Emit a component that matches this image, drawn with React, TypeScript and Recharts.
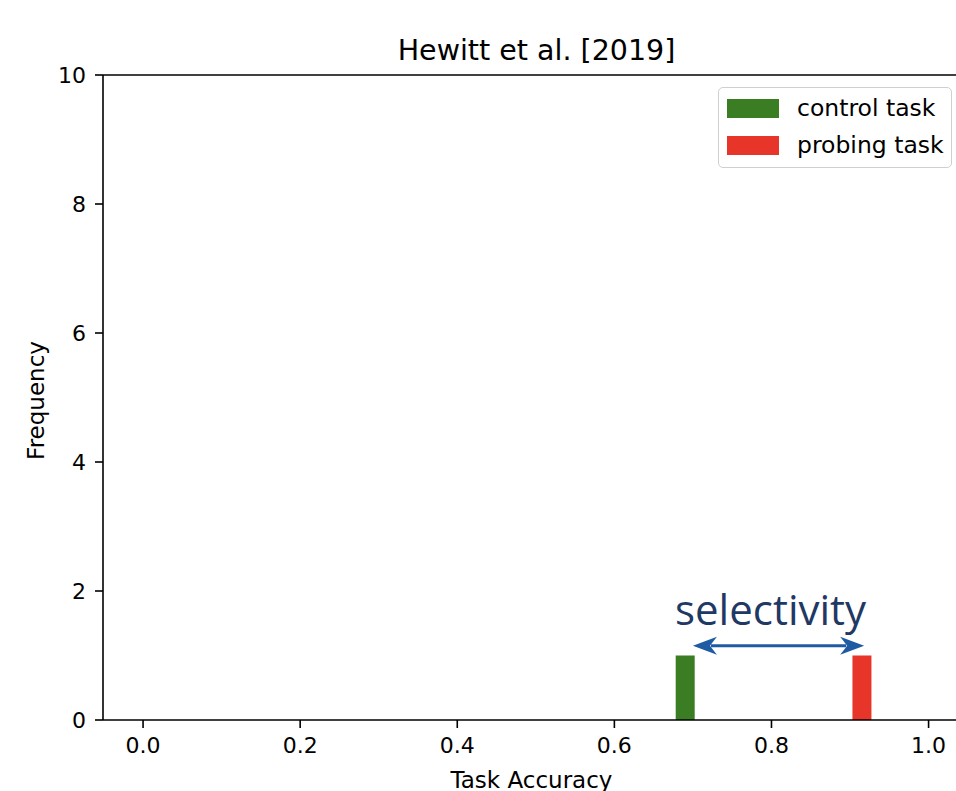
import React from 'react';
import { BarChart, Bar, XAxis, YAxis, Legend, ReferenceLine, Label } from 'recharts';

// histogram of task accuracy (one run each)
const accuracy = [0.69, 0.915];
const controlTask = [1, 0];
const probingTask = [0, 1];
const xTicks = [0, 0.2, 0.4, 0.6, 0.8, 1.0];
const yTicks = [0, 2, 4, 6, 8, 10];

const rows = accuracy.map((x, i) => ({ x, control: controlTask[i], probing: probingTask[i] }));

const GREEN = '#3a7d22';
const RED = '#e8352a';

const ArrowShape = (p: any) => {
  const { x1, y1, x2, y2 } = p;
  const h = 24;
  const w = 9;
  const c = '#1f5ba3';
  return (
    <g>
      <line x1={x1 + h - 6} y1={y1} x2={x2 - h + 6} y2={y2} stroke={c} strokeWidth={3} />
      <path d={`M${x1},${y1} L${x1 + h},${y1 - w} L${x1 + h - 7},${y1} L${x1 + h},${y1 + w} Z`} fill={c} />
      <path d={`M${x2},${y2} L${x2 - h},${y2 - w} L${x2 - h + 7},${y2} L${x2 - h},${y2 + w} Z`} fill={c} />
    </g>
  );
};

const renderLegend = (props: any) => (
  <div
    style={{
      position: 'relative',
      width: 234,
      height: 81,
      boxSizing: 'border-box',
      border: '1.5px solid #cfcfcf',
      borderRadius: 5,
      background: 'rgba(255,255,255,0.8)',
      fontFamily: 'DejaVu Sans',
      fontSize: 23.5,
      color: '#000',
    }}
  >
    {(props.payload || []).map((e: any, i: number) => (
      <div key={i} style={{ position: 'absolute', left: 0, top: 6 + i * 37, height: 30, width: 234 }}>
        <div style={{ position: 'absolute', left: 8, top: 5, width: 52, height: 19, background: e.color }} />
        <div style={{ position: 'absolute', left: 78, top: 0, lineHeight: '28px', whiteSpace: 'nowrap' }}>{e.value}</div>
      </div>
    ))}
  </div>
);

export default function App() {
  return (
    <div style={{ position: 'absolute', left: 0, top: 0, width: 956, height: 791, overflow: 'hidden', background: '#fff' }}>
      <BarChart
        width={960}
        height={830}
        data={rows}
        margin={{ top: 75, right: 0, left: 0, bottom: 60 }}
        style={{ fontFamily: 'DejaVu Sans' }}
      >
        <XAxis
          dataKey="x"
          type="number"
          domain={[-0.051, 1.04]}
          ticks={xTicks}
          tickFormatter={(v: number) => v.toFixed(1)}
          tick={{ fontSize: 22, fill: '#000' }}
          tickSize={8}
          tickMargin={9}
          height={50}
          axisLine={{ stroke: '#000', strokeWidth: 1.6 }}
          tickLine={{ stroke: '#000', strokeWidth: 1.6 }}
        >
          <Label value="Task Accuracy" position="bottom" offset={2} fontSize={23} fill="#000" />
        </XAxis>
        <YAxis
          type="number"
          domain={[0, 10]}
          ticks={yTicks}
          width={103}
          tick={{ fontSize: 22, fill: '#000' }}
          tickSize={8}
          tickMargin={9}
          axisLine={{ stroke: '#000', strokeWidth: 1.6 }}
          tickLine={{ stroke: '#000', strokeWidth: 1.6 }}
        >
          <Label
            content={(p: any) => {
              const vb = p.viewBox || { x: 0, y: 75, width: 103, height: 645 };
              const cx = vb.x + 36;
              const cy = vb.y + vb.height / 2 + 3;
              return (
                <text
                  x={cx}
                  y={cy}
                  transform={`rotate(-90, ${cx}, ${cy})`}
                  textAnchor="middle"
                  dominantBaseline="central"
                  fontSize={23}
                  fill="#000"
                >
                  Frequency
                </text>
              );
            }}
          />
        </YAxis>
        <ReferenceLine
          y={10}
          stroke="#000"
          strokeWidth={1.6}
          label={{ value: 'Hewitt et al. [2019]', position: 'top', offset: 15, fontSize: 28.5, fill: '#000', dx: 5 }}
        />
        <Bar dataKey="control" name="control task" stackId="h" fill={GREEN} barSize={19} isAnimationActive={false} />
        <Bar dataKey="probing" name="probing task" stackId="h" fill={RED} barSize={19} isAnimationActive={false} />
        <ReferenceLine
          segment={[{ x: 0.7, y: 1.15 }, { x: 0.918, y: 1.15 }]}
          shape={ArrowShape}
          label={{
            value: 'selectivity',
            position: 'top',
            offset: 21,
            fontSize: 42,
            fill: '#1f3864',
            fontFamily: 'Open Sans',
            dx: -8,
          }}
        />
        <Legend
          layout="vertical"
          align="center"
          verticalAlign="middle"
          content={renderLegend}
          wrapperStyle={{ position: 'absolute', left: 718, top: 87, width: 234, height: 81 }}
        />
      </BarChart>
    </div>
  );
}
